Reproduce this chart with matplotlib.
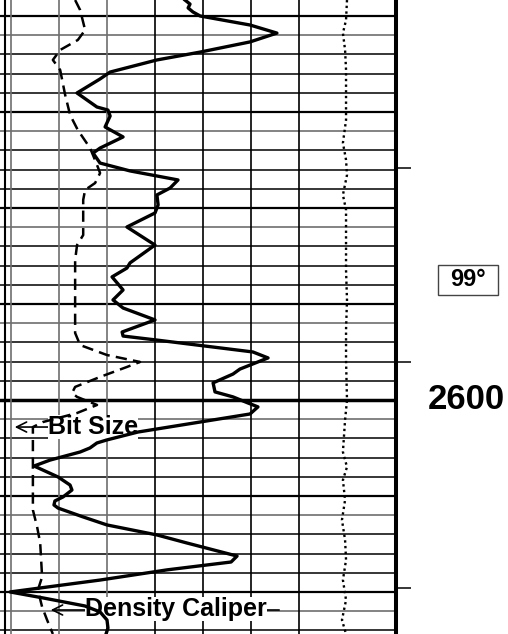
import matplotlib
matplotlib.use("Agg")
import matplotlib.pyplot as plt
from matplotlib.patches import Rectangle

plt.rcParams['font.family'] = ['Liberation Sans', 'DejaVu Sans']

# depth window of the log strip
depth_top = 2579.167
depth_bottom = 2612.19

# gamma ray (solid), API, 0-160 across the track
gr_depth = [2579.17, 2579.38, 2579.58, 2579.79, 2580.0, 2580.47, 2580.89, 2581.35, 2581.88, 2582.29,
            2582.92, 2583.28, 2584.01, 2584.74, 2584.9, 2585.21, 2585.78, 2586.3, 2586.88, 2587.14,
            2587.66, 2588.07, 2588.54, 2588.96, 2589.32, 2589.84, 2590.26, 2590.99, 2591.93, 2592.86,
            2593.13, 2593.59, 2594.27, 2594.79, 2595.21, 2595.83, 2596.46, 2596.67, 2596.88, 2597.5,
            2597.81, 2598.39, 2598.65, 2599.11, 2599.58, 2599.84, 2600.16, 2600.36, 2600.73, 2601.67,
            2602.08, 2602.24, 2602.5, 2602.71, 2603.13, 2603.44, 2604.01, 2604.43, 2604.69, 2605.05,
            2605.26, 2605.47, 2605.63, 2606.09, 2606.51, 2607.03, 2607.45, 2608.13, 2608.44, 2608.85,
            2609.38, 2610.0, 2610.31, 2610.73, 2611.04, 2611.46, 2611.88, 2612.19]
gr_api = [72.5, 74.6, 73.8, 75.8, 78.8, 99.6, 110.8, 99.6, 78.8, 60.8,
          41.3, 37.1, 27.5, 35.8, 40.4, 41.3, 39.2, 46.7, 37.1, 34.2,
          37.1, 49.6, 69.6, 66.3, 60.8, 61.3, 60.0, 48.3, 60.0, 49.6,
          48.3, 42.1, 46.7, 42.5, 46.7, 60.0, 46.3, 46.7, 60.8, 100.8,
          107.1, 95.4, 92.5, 84.2, 85.0, 92.5, 98.8, 102.9, 99.6, 52.9,
          40.0, 35.8, 32.9, 28.8, 16.3, 9.6, 19.6, 24.6, 25.4, 21.7,
          18.3, 17.9, 19.6, 30.0, 40.0, 60.8, 73.3, 94.2, 91.7, 65.0,
          37.1, -0.4, 13.3, 30.8, 37.1, 40.0, 40.4, 39.6]

# density caliper (dashed), inches, 6-16 across the track
cal_depth = [2579.17, 2579.69, 2580.73, 2581.25, 2581.77, 2582.29, 2582.81, 2584.11, 2585.16, 2585.94,
             2586.88, 2587.76, 2588.18, 2588.7, 2589.06, 2589.58, 2591.41, 2591.93, 2592.71, 2596.51,
             2597.14, 2597.66, 2598.02, 2598.28, 2598.8, 2599.32, 2599.64, 2599.84, 2600.26, 2600.68,
             2601.15, 2601.41, 2602.24, 2605.73, 2606.61, 2607.45, 2609.22, 2609.9, 2610.78, 2611.46,
             2612.19]
cal_in = [7.67, 7.80, 7.93, 7.74, 7.28, 7.09, 7.28, 7.41, 7.54, 7.74,
          8.06, 8.24, 8.32, 8.19, 7.93, 7.88, 7.88, 7.72, 7.67, 7.67,
          7.80, 8.50, 9.36, 9.02, 8.32, 7.67, 7.59, 7.72, 8.24, 7.72,
          6.83, 6.57, 6.57, 6.57, 6.68, 6.76, 6.81, 6.70, 6.81, 6.94,
          7.09]

# dotted curve near the right of the track (same scale as gamma ray)
dot_depth = [2579.17, 2580.21, 2580.89, 2581.77, 2582.81, 2584.11, 2585.42, 2586.61, 2587.5, 2588.28,
             2589.32, 2590.1, 2591.67, 2593.23, 2594.79, 2596.35, 2597.92, 2600.0, 2601.04, 2602.71,
             2603.49, 2604.17, 2605.21, 2606.25, 2607.29, 2608.33, 2609.38, 2610.42, 2611.46, 2612.19]
dot_val = [140.0, 139.6, 138.3, 139.2, 139.6, 139.6, 139.6, 138.3, 139.6, 140.0,
           138.3, 139.6, 139.6, 139.6, 140.0, 139.6, 139.6, 140.0, 139.2, 138.3,
           140.0, 138.3, 139.2, 137.9, 139.2, 139.6, 138.3, 139.6, 137.9, 139.6]

depth_label = "2600"
temp_label = "99°"
tick_depths = [2587.92, 2598.02, 2609.79]

fig = plt.figure(figsize=(5.08, 6.34), dpi=100)
ax = fig.add_axes([0, 0, 395.5 / 508, 1])
ax.set_xlim(-4.583, 160.21)
ax.set_ylim(depth_bottom, depth_top)

# grid
for d in range(2580, 2613):
    if d == 2600:
        ax.axhline(d, color='black', lw=2.5, zorder=1)
    elif d % 5 == 0:
        ax.axhline(d, color='black', lw=1.6, zorder=1)
    elif d % 5 == 1:
        ax.axhline(d, color='#6e6e6e', lw=1.2, zorder=1)
    else:
        ax.axhline(d, color='black', lw=1.1, zorder=1)
for g in range(0, 140, 20):
    c = '#6e6e6e' if g < 60 else 'black'
    ax.axvline(g, color=c, lw=1.2, zorder=1)
ax.axvline(-2.7, color='black', lw=1.5, zorder=1)

for s in ['left', 'top', 'bottom']:
    ax.spines[s].set_visible(False)
ax.spines['right'].set_linewidth(2.9)
ax.set_xticks([])
ax.yaxis.tick_right()
ax.set_yticks(tick_depths)
ax.set_yticklabels([])
ax.tick_params(axis='y', direction='out', length=11, width=1.1, color='black')

ax.plot(gr_api, gr_depth, color='black', lw=2.4, zorder=4, solid_joinstyle='round')
ax.plot(dot_val, dot_depth, color='black', lw=1.7, ls=(0, (1, 1.4)), zorder=4)

ax2 = ax.twiny()
ax2.set_xlim(5.7135, 16.0125)
ax2.set_ylim(depth_bottom, depth_top)
ax2.axis('off')
ax2.plot(cal_in, cal_depth, color='black', lw=1.8, ls=(0, (4.5, 2.5)), zorder=4)

# curve labels with leader arrows
ax.annotate('', xy=(0.4, 2601.41), xytext=(53.7, 2601.41),
            arrowprops=dict(arrowstyle='->', lw=1.2, color='black', mutation_scale=18), zorder=2)
ax.text(15.4, 2601.41, 'Bit Size', fontsize=18, fontweight='bold', ha='left', va='center',
        bbox=dict(facecolor='white', edgecolor='none', pad=0), zorder=3)
ax.annotate('', xy=(15.4, 2610.94), xytext=(112.9, 2610.94),
            arrowprops=dict(arrowstyle='->', lw=1.2, color='black', mutation_scale=18), zorder=2)
ax.text(30.8, 2610.9, 'Density Caliper', fontsize=18, fontweight='bold', ha='left', va='center',
        bbox=dict(facecolor='white', edgecolor='none', pad=0), zorder=3)

# depth and temperature annotations to the right of the track
ax.text(466.5 / 395.5, 2599.95, depth_label, transform=ax.get_yaxis_transform(),
        fontsize=25, fontweight='bold', ha='center', va='center', clip_on=False)
fig.patches.append(Rectangle((438 / 508, 1 - 295 / 634), 60 / 508, 30 / 634,
                             transform=fig.transFigure, facecolor='white',
                             edgecolor='#444444', lw=1.0))
fig.text(468 / 508, 1 - 280 / 634, temp_label, fontsize=17, fontweight='bold',
         ha='center', va='center')

fig.savefig('out.png', dpi=100)
